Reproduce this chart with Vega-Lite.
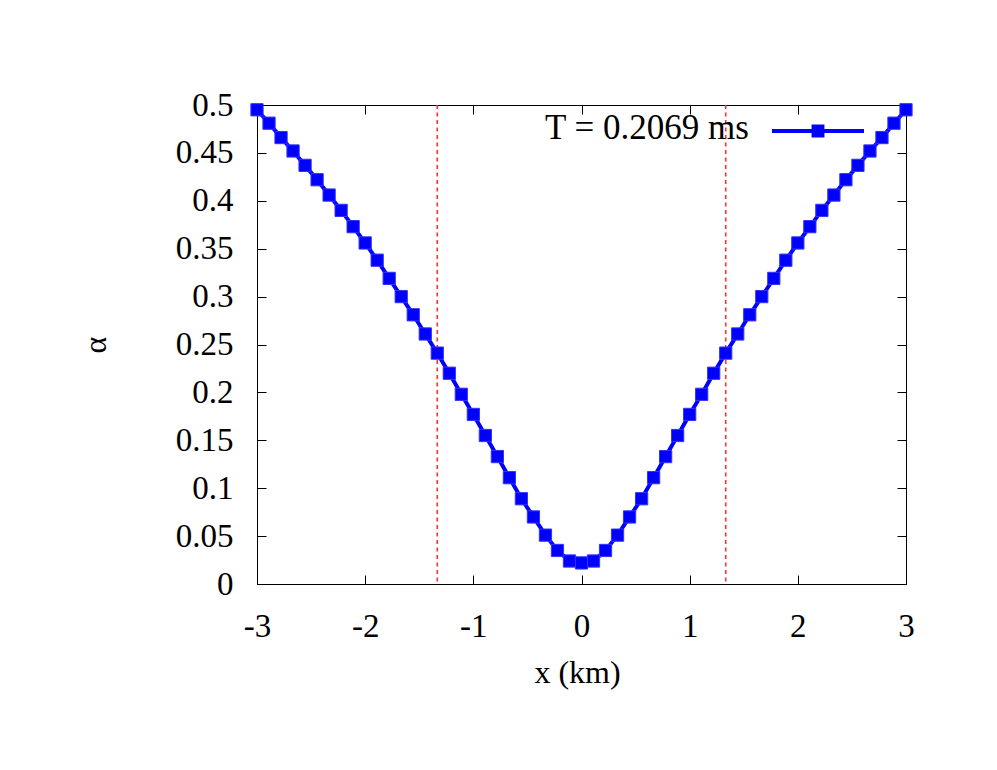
{
  "$schema": "https://vega.github.io/schema/vega-lite/v6.json",
  "width": 649,
  "height": 479,
  "autosize": {"type": "none"},
  "padding": {"left": 257, "top": 105, "right": 91, "bottom": 186},
  "background": "white",
  "config": {
    "view": {"stroke": "black", "strokeWidth": 1},
    "axis": {
      "grid": false,
      "domainColor": "black",
      "domainWidth": 1,
      "tickColor": "black",
      "tickWidth": 1,
      "tickSize": -9,
      "labelFlush": false,
      "labelFont": "Liberation Serif",
      "labelFontSize": 33,
      "labelColor": "black",
      "titleFont": "Liberation Serif",
      "titleFontSize": 32,
      "titleFontWeight": "normal",
      "titleColor": "black"
    },
    "legend": {
      "titleFont": "Liberation Serif",
      "titleFontSize": 35,
      "titleFontWeight": "normal",
      "titleColor": "black",
      "titleLimit": 500
    }
  },
  "datasets": {
    "curve": [
      {"x": -3, "alpha": 0.495, "series": "T = 0.2069 ms"},
      {"x": -2.8889, "alpha": 0.481, "series": "T = 0.2069 ms"},
      {"x": -2.7778, "alpha": 0.466, "series": "T = 0.2069 ms"},
      {"x": -2.6667, "alpha": 0.452, "series": "T = 0.2069 ms"},
      {"x": -2.5556, "alpha": 0.437, "series": "T = 0.2069 ms"},
      {"x": -2.4444, "alpha": 0.422, "series": "T = 0.2069 ms"},
      {"x": -2.3333, "alpha": 0.406, "series": "T = 0.2069 ms"},
      {"x": -2.2222, "alpha": 0.390, "series": "T = 0.2069 ms"},
      {"x": -2.1111, "alpha": 0.373, "series": "T = 0.2069 ms"},
      {"x": -2, "alpha": 0.356, "series": "T = 0.2069 ms"},
      {"x": -1.8889, "alpha": 0.338, "series": "T = 0.2069 ms"},
      {"x": -1.7778, "alpha": 0.319, "series": "T = 0.2069 ms"},
      {"x": -1.6667, "alpha": 0.300, "series": "T = 0.2069 ms"},
      {"x": -1.5556, "alpha": 0.281, "series": "T = 0.2069 ms"},
      {"x": -1.4444, "alpha": 0.261, "series": "T = 0.2069 ms"},
      {"x": -1.3333, "alpha": 0.241, "series": "T = 0.2069 ms"},
      {"x": -1.2222, "alpha": 0.220, "series": "T = 0.2069 ms"},
      {"x": -1.1111, "alpha": 0.198, "series": "T = 0.2069 ms"},
      {"x": -1, "alpha": 0.177, "series": "T = 0.2069 ms"},
      {"x": -0.8889, "alpha": 0.155, "series": "T = 0.2069 ms"},
      {"x": -0.7778, "alpha": 0.133, "series": "T = 0.2069 ms"},
      {"x": -0.6667, "alpha": 0.111, "series": "T = 0.2069 ms"},
      {"x": -0.5556, "alpha": 0.089, "series": "T = 0.2069 ms"},
      {"x": -0.4444, "alpha": 0.070, "series": "T = 0.2069 ms"},
      {"x": -0.3333, "alpha": 0.051, "series": "T = 0.2069 ms"},
      {"x": -0.2222, "alpha": 0.035, "series": "T = 0.2069 ms"},
      {"x": -0.1111, "alpha": 0.024, "series": "T = 0.2069 ms"},
      {"x": 0, "alpha": 0.022, "series": "T = 0.2069 ms"},
      {"x": 0.1111, "alpha": 0.024, "series": "T = 0.2069 ms"},
      {"x": 0.2222, "alpha": 0.035, "series": "T = 0.2069 ms"},
      {"x": 0.3333, "alpha": 0.051, "series": "T = 0.2069 ms"},
      {"x": 0.4444, "alpha": 0.070, "series": "T = 0.2069 ms"},
      {"x": 0.5556, "alpha": 0.089, "series": "T = 0.2069 ms"},
      {"x": 0.6667, "alpha": 0.111, "series": "T = 0.2069 ms"},
      {"x": 0.7778, "alpha": 0.133, "series": "T = 0.2069 ms"},
      {"x": 0.8889, "alpha": 0.155, "series": "T = 0.2069 ms"},
      {"x": 1, "alpha": 0.177, "series": "T = 0.2069 ms"},
      {"x": 1.1111, "alpha": 0.198, "series": "T = 0.2069 ms"},
      {"x": 1.2222, "alpha": 0.220, "series": "T = 0.2069 ms"},
      {"x": 1.3333, "alpha": 0.241, "series": "T = 0.2069 ms"},
      {"x": 1.4444, "alpha": 0.261, "series": "T = 0.2069 ms"},
      {"x": 1.5556, "alpha": 0.281, "series": "T = 0.2069 ms"},
      {"x": 1.6667, "alpha": 0.300, "series": "T = 0.2069 ms"},
      {"x": 1.7778, "alpha": 0.319, "series": "T = 0.2069 ms"},
      {"x": 1.8889, "alpha": 0.338, "series": "T = 0.2069 ms"},
      {"x": 2, "alpha": 0.356, "series": "T = 0.2069 ms"},
      {"x": 2.1111, "alpha": 0.373, "series": "T = 0.2069 ms"},
      {"x": 2.2222, "alpha": 0.390, "series": "T = 0.2069 ms"},
      {"x": 2.3333, "alpha": 0.406, "series": "T = 0.2069 ms"},
      {"x": 2.4444, "alpha": 0.422, "series": "T = 0.2069 ms"},
      {"x": 2.5556, "alpha": 0.437, "series": "T = 0.2069 ms"},
      {"x": 2.6667, "alpha": 0.452, "series": "T = 0.2069 ms"},
      {"x": 2.7778, "alpha": 0.466, "series": "T = 0.2069 ms"},
      {"x": 2.8889, "alpha": 0.481, "series": "T = 0.2069 ms"},
      {"x": 3, "alpha": 0.495, "series": "T = 0.2069 ms"}
    ],
    "bounds": [{"x": -1.3333}, {"x": 1.3333}]
  },
  "layer": [
    {
      "data": {"name": "bounds"},
      "mark": {"type": "rule", "color": "#ff3030", "strokeWidth": 1.6, "strokeDash": [4, 3.5]},
      "encoding": {
        "x": {"field": "x", "type": "quantitative", "scale": {"domain": [-3, 3], "nice": false, "zero": false},
          "axis": {"orient": "bottom", "title": "x (km)", "values": [-3, -2, -1, 0, 1, 2, 3], "labelExpr": "'' + datum.value", "labelPadding": 35, "titleBaseline": "alphabetic", "titleY": 98, "titleX": 320}}
      }
    },
    {
      "data": {"name": "curve"},
      "mark": {"type": "line", "strokeWidth": 4, "clip": false},
      "encoding": {
        "x": {"field": "x", "type": "quantitative", "scale": {"domain": [-3, 3], "nice": false, "zero": false},
          "axis": {"orient": "top", "title": null, "labels": false, "values": [-3, -2, -1, 0, 1, 2, 3]}},
        "y": {"field": "alpha", "type": "quantitative", "scale": {"domain": [0, 0.5], "nice": false},
          "axis": {"orient": "left", "title": "α", "values": [0, 0.05, 0.1, 0.15, 0.2, 0.25, 0.3, 0.35, 0.4, 0.45, 0.5], "labelExpr": "'' + datum.value", "labelPadding": 33, "titleAngle": 270, "titleBaseline": "middle", "titleX": -162, "titleY": 239.5}},
        "color": {"field": "series", "type": "nominal", "scale": {"range": ["#0000ff"]},
          "legend": {"title": "T = 0.2069 ms", "orient": "none", "legendX": 288, "legendY": -20, "padding": 0, "titleOrient": "left", "titleAnchor": "middle", "titleBaseline": "top", "titlePadding": 22, "labelExpr": "''", "labelOffset": 0,
            "symbolType": "M-1,-0.045L1,-0.045L1,0.045L-1,0.045Z M-0.14,-0.14L0.14,-0.14L0.14,0.14L-0.14,0.14Z",
            "symbolSize": 8464, "symbolFillColor": "#0000ff", "symbolStrokeColor": "#0000ff", "symbolStrokeWidth": 0}}
      }
    },
    {
      "data": {"name": "curve"},
      "mark": {"type": "point", "shape": "square", "filled": true, "size": 150, "opacity": 1, "stroke": "#3333ff", "strokeWidth": 1, "clip": false},
      "encoding": {
        "x": {"field": "x", "type": "quantitative", "scale": {"domain": [-3, 3], "nice": false, "zero": false}, "axis": null},
        "y": {"field": "alpha", "type": "quantitative", "scale": {"domain": [0, 0.5], "nice": false},
          "axis": {"orient": "right", "title": null, "labels": false, "values": [0, 0.05, 0.1, 0.15, 0.2, 0.25, 0.3, 0.35, 0.4, 0.45, 0.5]}},
        "color": {"field": "series", "type": "nominal", "scale": {"range": ["#0000ff"]}}
      }
    }
  ],
  "resolve": {"axis": {"x": "independent", "y": "independent"}}
}
